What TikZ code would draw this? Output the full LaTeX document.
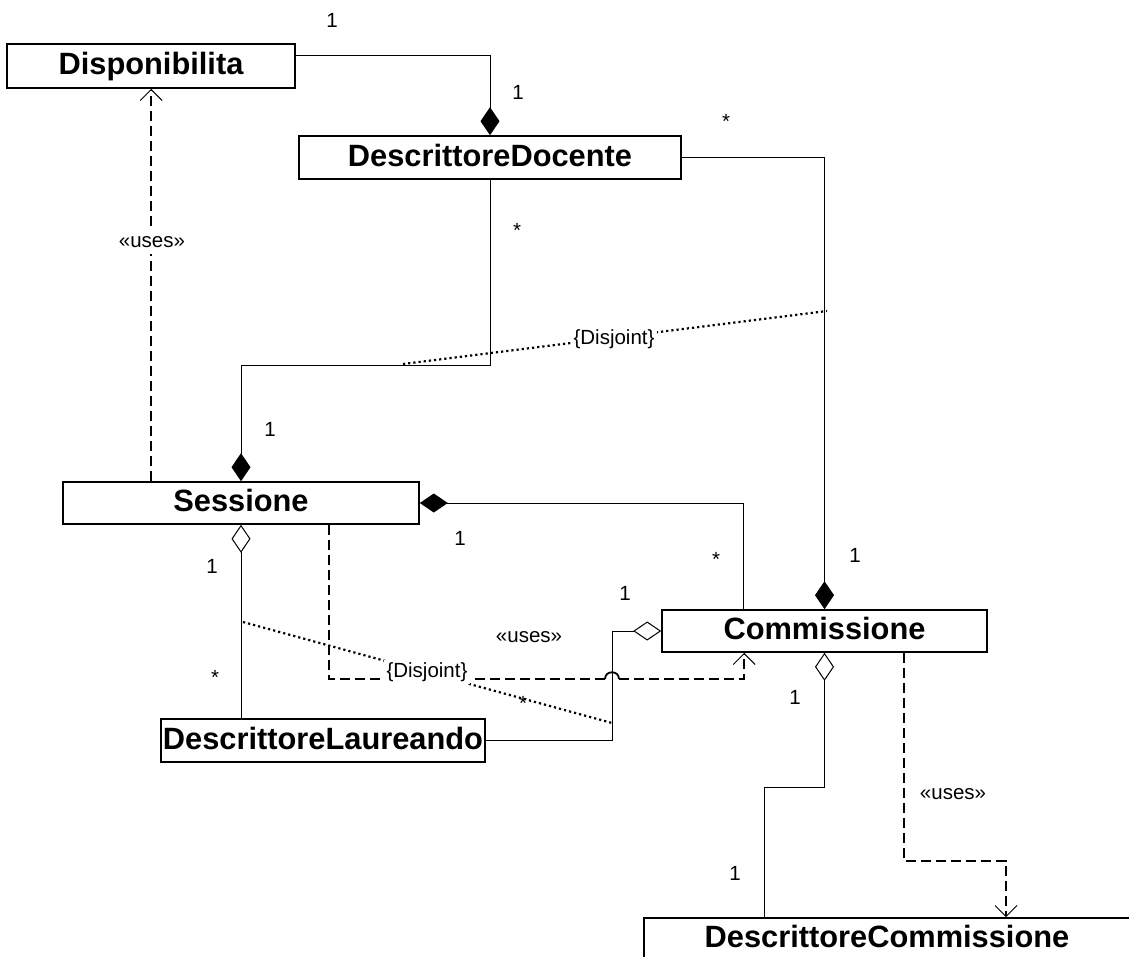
\documentclass[tikz,border=0pt]{standalone}
\usepackage{fontspec}
\setmainfont{Liberation Sans}
\usetikzlibrary{arrows.meta}
\tikzset{
  fdia/.tip={Diamond[length=28pt,width=19pt]},
  odia/.tip={Diamond[open,fill=white,length=28pt,width=19pt,line width=1pt]},
  obarb/.tip={Straight Barb[length=11pt,width=22pt,line width=1pt]}
}
\begin{document}
\begin{tikzpicture}[x=1pt,y=-1pt,
  cls/.style={draw,line width=1.6pt,fill=white,inner sep=0pt,
    font=\fontsize{30.8}{36}\selectfont\bfseries,text height=24.4pt,text depth=6.5pt},
  assoc/.style={line width=1pt},
  dashln/.style={line width=1.8pt,dash pattern=on 10pt off 5pt},
  dep/.style={dashln,-{obarb}},
  dotline/.style={line width=2.2pt,dash pattern=on 2.2pt off 3pt},
  lbl/.style={font=\fontsize{20.5}{24}\selectfont,inner sep=1pt,text height=15pt,text depth=4.4pt},
  wlbl/.style={lbl,fill=white,inner xsep=3pt,inner ysep=2pt}
]
\clip (0,0) rectangle (1129,956);

% classes
\node[cls,minimum width=288pt,minimum height=44pt] (disp) at (151,66) {Disponibilita};
\node[cls,minimum width=382pt,minimum height=43pt] (dd) at (490,157.5) {DescrittoreDocente};
\node[cls,minimum width=356pt,minimum height=42pt] (sess) at (241,503) {Sessione};
\node[cls,minimum width=324pt,minimum height=43pt] (dl) at (323,740.5) {DescrittoreLaureando};
\node[cls,minimum width=325pt,minimum height=42pt] (com) at (824.5,631) {Commissione};
\node[cls,minimum width=486pt,minimum height=42pt] (dc) at (887,939) {DescrittoreCommissione};

\coordinate (k1) at (490,365);
\coordinate (k2) at (612,740.5);
\coordinate (h1) at (605,679);
\coordinate (h2) at (619,679);

% associations
\draw[assoc,-{fdia}] ([yshift=11pt]disp.east) -| (dd.north);
\draw[assoc,-{fdia}] (dd.east) -| (com.north);
\draw[assoc,-{fdia}] (dd.south) -- (k1) -| (sess.north);
\draw[assoc,{fdia}-] (sess.east) -| ([xshift=82pt]com.north west);
\draw[assoc,{odia}-] (sess.south) -- (sess.south |- dl.north);
\draw[assoc,-{odia}] (dl.east) -- (k2) |- (com.west);
\draw[assoc,{odia}-] (com.south) -- ++(0,135) -| ([xshift=121pt]dc.north west);

% dependencies
\draw[dep] ([xshift=89pt]sess.north west) -- ([xshift=89pt]sess.north west |- disp.south);
\draw[dashln] ([xshift=267pt]sess.south west) |- (h1);
\draw[line width=1.8pt] (h1) .. controls (605,670) and (619,670) .. (h2);
\draw[dep] (h2) -| ([xshift=83pt]com.south west);
\draw[dep] ([xshift=243pt]com.south west) -- ++(0,208) -| ([xshift=119pt]dc.north);

% disjoint constraints
\draw[dotline] (403,364) -- (827,311);
\draw[dotline] (243,622) -- (612,723);

% labels
\node[lbl] (m1) at (332,22) {1};
\node[lbl] (m2) at (518,94) {1};
\node[lbl] (m3) at (726,123) {*};
\node[lbl] (m4) at (517,232) {*};
\node[wlbl] (dj1) at (614,339) {\{Disjoint\}};
\node[lbl] (m5) at (270,431) {1};
\node[wlbl] (u1) at (152,242) {«uses»};
\node[lbl] (m6) at (460,540) {1};
\node[lbl] (m7) at (716,561) {*};
\node[lbl] (m8) at (855,557) {1};
\node[lbl] (m9) at (212,568) {1};
\node[lbl] (m10) at (215,679) {*};
\node[lbl] (u2) at (529,637) {«uses»};
\node[lbl] (m11) at (625,595) {1};
\node[wlbl] (dj2) at (427,672) {\{Disjoint\}};
\node[lbl] (m12) at (523,705) {*};
\node[lbl] (m13) at (795,699) {1};
\node[lbl] (u3) at (953,794) {«uses»};
\node[lbl] (m14) at (735,875) {1};
\end{tikzpicture}
\end{document}
